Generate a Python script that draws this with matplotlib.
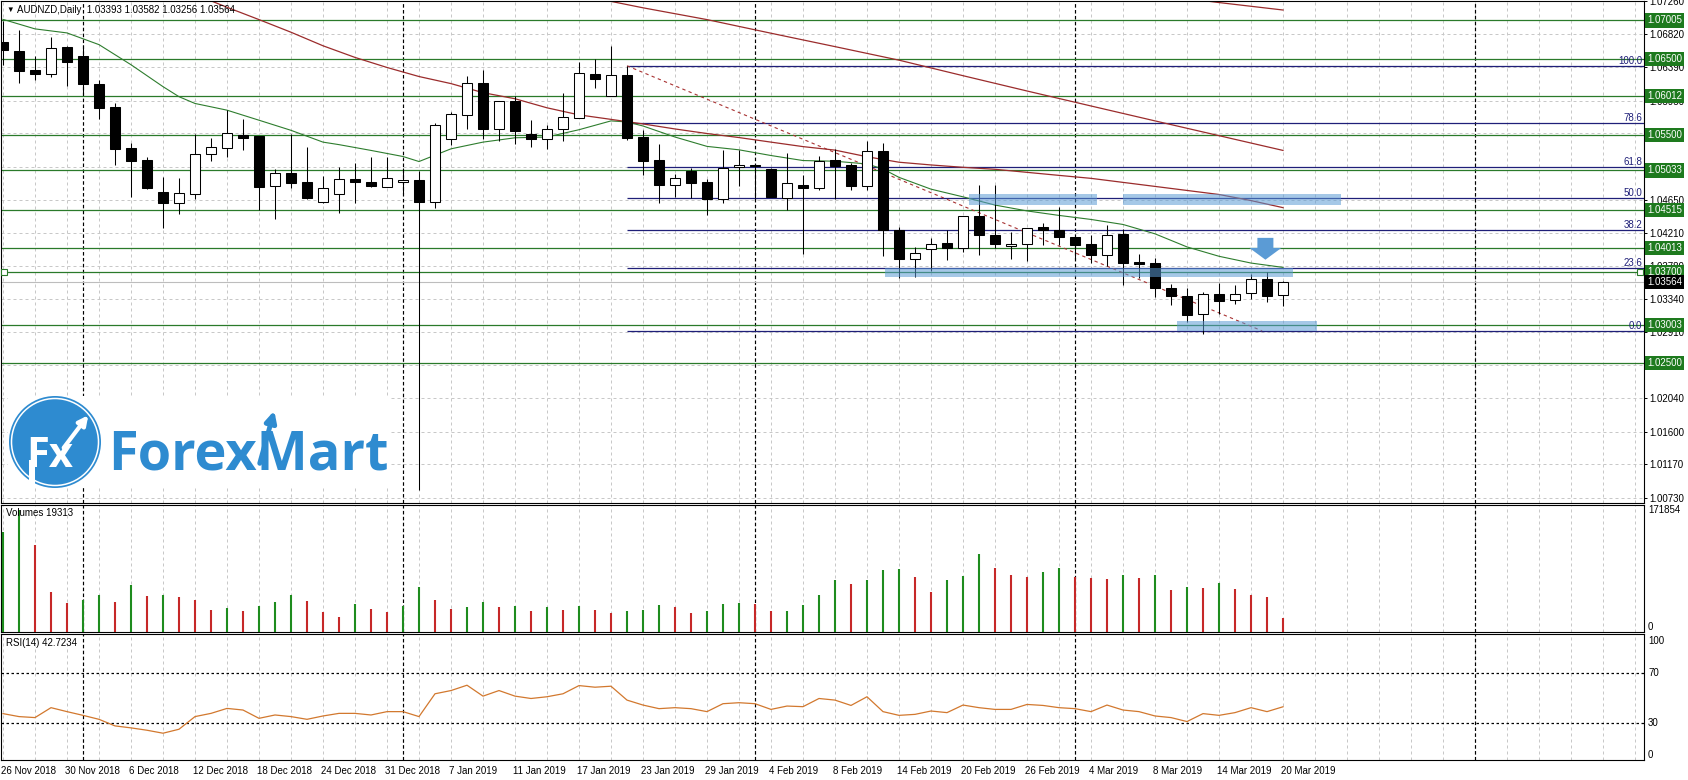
import matplotlib
matplotlib.use("Agg")
import matplotlib.pyplot as plt
from matplotlib.patches import Rectangle, Circle, Polygon
from matplotlib.transforms import ScaledTranslation

plt.rcParams['font.family'] = ['Liberation Sans', 'DejaVu Sans']
plt.rcParams['font.size'] = 7

# ---------------- values ----------------
dates = ["26 Nov 2018", "30 Nov 2018", "6 Dec 2018", "12 Dec 2018", "18 Dec 2018",
         "24 Dec 2018", "31 Dec 2018", "7 Jan 2019", "11 Jan 2019", "17 Jan 2019",
         "23 Jan 2019", "29 Jan 2019", "4 Feb 2019", "8 Feb 2019", "14 Feb 2019",
         "20 Feb 2019", "26 Feb 2019", "4 Mar 2019", "8 Mar 2019", "14 Mar 2019",
         "20 Mar 2019"]

opens = [1.06717, 1.06598, 1.06355, 1.06302, 1.06651, 1.06531, 1.06170, 1.05860, 1.05326, 1.05176,
         1.04756, 1.04601, 1.04721, 1.05243, 1.05330, 1.05502, 1.05480, 1.04832, 1.04995, 1.04876,
         1.04620, 1.04721, 1.04925, 1.04876, 1.04819, 1.04885, 1.04911, 1.04620, 1.05449, 1.05767,
         1.06187, 1.05582, 1.05949, 1.05515, 1.05441, 1.05582, 1.05723, 1.06302, 1.06015, 1.06289,
         1.05472, 1.05176, 1.04845, 1.05021, 1.04876, 1.04664, 1.05084, 1.05110, 1.05052, 1.04677,
         1.04845, 1.04800, 1.05171, 1.05105, 1.04823, 1.05286, 1.04249, 1.03873, 1.04001, 1.04081,
         1.04015, 1.04434, 1.04183, 1.04037, 1.04072, 1.04289, 1.04249, 1.04156, 1.04072, 1.03926,
         1.04200, 1.03825, 1.03816, 1.03494, 1.03388, 1.03144, 1.03405, 1.03330, 1.03428, 1.03604,
         1.03393]
highs = [1.06995, 1.06876, 1.06531, 1.06783, 1.06673, 1.06686, 1.06223, 1.05922, 1.05392, 1.05216,
         1.04951, 1.04929, 1.05507, 1.05462, 1.05825, 1.05714, 1.05485, 1.05052, 1.05507, 1.05339,
         1.04964, 1.05074, 1.05127, 1.05216, 1.05216, 1.05065, 1.05021, 1.05657, 1.05803, 1.06280,
         1.06355, 1.05945, 1.06011, 1.05693, 1.05635, 1.06055, 1.06452, 1.06501, 1.06664, 1.06408,
         1.05560, 1.05383, 1.04986, 1.05061, 1.04919, 1.05295, 1.05295, 1.05118, 1.05061, 1.05260,
         1.04972, 1.05229, 1.05317, 1.05127, 1.05419, 1.05396, 1.04293, 1.04024, 1.04147, 1.04244,
         1.04434, 1.04845, 1.04842, 1.04222, 1.04279, 1.04346, 1.04554, 1.04160, 1.04183, 1.04315,
         1.04257, 1.03935, 1.03882, 1.03538, 1.03494, 1.03441, 1.03551, 1.03528, 1.03670, 1.03693,
         1.03582]
lows = [1.06425, 1.06178, 1.06223, 1.06266, 1.06143, 1.06024, 1.05714, 1.05105, 1.04686, 1.04790,
        1.04279, 1.04456, 1.04654, 1.05154, 1.05207, 1.05303, 1.04509, 1.04389, 1.04800, 1.04660,
        1.04601, 1.04469, 1.04601, 1.04809, 1.04809, 1.04743, 1.00835, 1.04544, 1.05370, 1.05582,
        1.05449, 1.05415, 1.05383, 1.05339, 1.05317, 1.05419, 1.05720, 1.06112, 1.06010, 1.05428,
        1.04978, 1.04611, 1.04690, 1.04677, 1.04442, 1.04611, 1.04832, 1.04677, 1.04685, 1.04514,
        1.03939, 1.04774, 1.04664, 1.04774, 1.04774, 1.03913, 1.03617, 1.03630, 1.03706, 1.03860,
        1.03962, 1.03918, 1.04015, 1.03873, 1.03838, 1.04058, 1.04058, 1.03869, 1.03816, 1.03772,
        1.03528, 1.03626, 1.03375, 1.03263, 1.03044, 1.02889, 1.03153, 1.03273, 1.03339, 1.03308,
        1.03256]
closes = [1.06611, 1.06342, 1.06302, 1.06641, 1.06456, 1.06164, 1.05847, 1.05317, 1.05154, 1.04800,
          1.04601, 1.04730, 1.05250, 1.05335, 1.05529, 1.05462, 1.04809, 1.04995, 1.04866, 1.04668,
          1.04800, 1.04919, 1.04885, 1.04832, 1.04933, 1.04911, 1.04620, 1.05627, 1.05772, 1.06178,
          1.05582, 1.05940, 1.05551, 1.05449, 1.05582, 1.05737, 1.06319, 1.06236, 1.06289, 1.05462,
          1.05154, 1.04842, 1.04929, 1.04866, 1.04664, 1.05061, 1.05110, 1.05088, 1.04690, 1.04862,
          1.04800, 1.05163, 1.05088, 1.04823, 1.05286, 1.04249, 1.03873, 1.03948, 1.04072, 1.04015,
          1.04430, 1.04183, 1.04072, 1.04072, 1.04275, 1.04249, 1.04156, 1.04058, 1.03926, 1.04191,
          1.03816, 1.03807, 1.03485, 1.03388, 1.03131, 1.03405, 1.03322, 1.03409, 1.03604, 1.03388,
          1.03564]

vols = [141200, 171854, 122400, 56500, 40100, 44800, 51800, 42400, 65900, 50400,
        51800, 49400, 44800, 30600, 33900, 29200, 36300, 42400, 51800, 43300,
        28200, 19800, 39100, 32000, 28200, 36300, 63500, 44800, 32000, 35300,
        42400, 35300, 36300, 29200, 35300, 30600, 36300, 30600, 26800, 29200,
        30600, 37700, 35300, 26800, 29200, 39100, 40500, 38500, 28800, 29600,
        37700, 51800, 73000, 67400, 73000, 87100, 88500, 77700, 56500, 73000,
        78600, 109700, 90400, 80100, 77700, 84700, 90400, 76800, 76300, 74400,
        80100, 76300, 80100, 58900, 63500, 62100, 68300, 60300, 51800, 49400,
        19313]

rsi = [37.2, 34.8, 34.0, 42.0, 38.8, 35.8, 32.6, 27.3, 25.7, 23.8,
       21.4, 24.6, 34.8, 37.4, 41.4, 40.1, 33.4, 36.1, 34.8, 32.6,
       35.3, 37.4, 37.4, 36.1, 38.8, 38.8, 34.8, 53.2, 55.8, 60.1,
       51.3, 55.8, 51.3, 49.4, 50.8, 53.2, 59.8, 58.5, 59.3, 48.1,
       44.1, 41.2, 42.0, 41.2, 38.8, 45.2, 46.0, 45.2, 40.6, 43.3,
       42.8, 49.4, 48.1, 43.8, 50.8, 38.8, 35.8, 36.6, 39.3, 38.0,
       44.1, 42.0, 40.6, 40.6, 44.6, 43.8, 42.0, 41.2, 38.8, 44.1,
       40.1, 38.8, 35.3, 34.0, 30.8, 37.2, 35.8, 38.0, 42.0, 38.8,
       42.7234]

# moving averages sampled at these bars
ma_green_x = [0, 2, 4, 6, 8, 10, 11, 12, 14, 16, 18, 20, 21, 23, 25, 26, 28, 30, 32, 34, 36, 38,
              39, 40, 42, 44, 46, 48, 50, 52, 54, 55, 56, 58, 60, 62, 64, 66, 68, 70, 72, 74, 76, 78, 80]
ma_green = [1.07018, 1.06893, 1.06840, 1.06686, 1.06422, 1.06134, 1.06002, 1.05913, 1.05825, 1.05693,
            1.05560, 1.05405, 1.05372, 1.05296, 1.05216, 1.05150, 1.05317, 1.05405, 1.05462, 1.05472,
            1.05568, 1.05684, 1.05670, 1.05617, 1.05472, 1.05349, 1.05304, 1.05229, 1.05163, 1.05154,
            1.05118, 1.05052, 1.04942, 1.04787, 1.04686, 1.04578, 1.04501, 1.04442, 1.04389, 1.04323,
            1.04200, 1.04028, 1.03905, 1.03816, 1.03759]
ma_slow_x = [12, 14, 16, 18, 20, 22, 24, 26, 28, 30, 32, 34, 36, 38, 40, 42, 44, 46, 48, 50,
             52, 54, 56, 58, 60, 62, 64, 66, 68, 70, 72, 74, 76, 78, 80]
ma_slow = [1.07346, 1.07177, 1.07015, 1.06849, 1.06671, 1.06518, 1.06386, 1.06267, 1.06174, 1.06055,
           1.05975, 1.05856, 1.05763, 1.05704, 1.05644, 1.05578, 1.05518, 1.05465, 1.05405, 1.05346,
           1.05300, 1.05213, 1.05141, 1.05105, 1.05074, 1.05048, 1.05008, 1.04968, 1.04929, 1.04876,
           1.04823, 1.04770, 1.04717, 1.04637, 1.04544]
ma_slower_x = [36, 40, 44, 48, 52, 56, 60, 64, 68, 72, 76, 80]
ma_slower = [1.07339, 1.07170, 1.07015, 1.06836, 1.06660, 1.06482, 1.06278, 1.06077, 1.05880,
             1.05684, 1.05490, 1.05296]
ma_slowest_x = [72, 76, 80]
ma_slowest = [1.07343, 1.07239, 1.07141]

levels = [1.07005, 1.06500, 1.06012, 1.05500, 1.05033, 1.04515, 1.04013, 1.03700, 1.03003, 1.02500]
bid = 1.03564

fib_names = ["0.0", "23.6", "38.2", "50.0", "61.8", "78.6", "100.0"]
fib_levels = [1.02924, 1.03746, 1.04255, 1.04666, 1.05077, 1.05662, 1.06408]
fib_start = 39
fib_diag_x = [39, 78.7]
fib_diag_y = [1.06408, 1.02924]

price_ticks = ["1.07260", "1.06820", "1.06390", "1.05950", "1.05520", "1.05080", "1.04650", "1.04210",
               "1.03780", "1.03340", "1.02910", "1.02470", "1.02040", "1.01600", "1.01170", "1.00730"]
separators = [5, 25, 47, 67, 92]

# hand-drawn blue marks: (bar from, bar to, price low, price high)
bands = [(60.4, 68.4, 1.04584, 1.04717), (70.0, 83.6, 1.04584, 1.04717),
         (55.1, 80.6, 1.03630, 1.03750), (73.4, 82.1, 1.02928, 1.03061)]
arrow_x = [78.4, 79.4, 79.4, 79.9, 78.9, 77.9, 78.4]
arrow_y = [1.04147, 1.04147, 1.04015, 1.04015, 1.03860, 1.04015, 1.04015]

# ---------------- layout ----------------
W, H = 1688, 780
fig = plt.figure(figsize=(W / 100, H / 100), dpi=100)
fig.patch.set_facecolor('white')


def px_axes(x0, y0, x1, y1):
    return fig.add_axes([x0 / W, 1 - y1 / H, (x1 - x0) / W, (y1 - y0) / H])


ax = px_axes(1, 0.5, 1644, 503)
axv = px_axes(1, 505, 1644, 631.5)
axr = px_axes(1, 634, 1644, 760)

XL = (-0.125, 102.5625)
grid_x = list(range(0, 103, 2))
GRID = dict(color='#c8c8c8', linestyle=(0, (3, 3)), linewidth=0.72)
GREEN = '#2a7a2a'
NAVY = '#1f1f78'

for a in (ax, axv, axr):
    a.set_xlim(*XL)
    a.set_xticks(grid_x)
    a.grid(True, axis='x', **GRID)
    a.set_axisbelow(True)
    for s in a.spines.values():
        s.set_color('black')
        s.set_linewidth(0.8)
    for sx in separators:
        a.axvline(sx, color='black', linestyle=(0, (3, 2)), linewidth=0.85, zorder=1)
    a.tick_params(axis='x', length=0, labelbottom=False)

xs = list(range(len(opens)))

# ---- price panel ----
ax.set_ylim(1.00663, 1.07266)
tick_vals = [float(t) for t in price_ticks]
ax.yaxis.tick_right()
ax.set_yticks(tick_vals, price_ticks)
ax.tick_params(axis='y', length=2.5, width=0.7, pad=1.5, labelsize=7)
ax.grid(True, axis='y', **GRID)

for lv in levels:
    ax.axhline(lv, color=GREEN, linewidth=0.9, zorder=2)
ax.axhline(bid, color='#bdbdbd', linewidth=0.8, zorder=2)

ax.hlines(fib_levels, fib_start, XL[1], color=NAVY, linewidth=0.9, zorder=2)
ax.plot(fib_diag_x, fib_diag_y, color='#a83232', linestyle=(0, (3, 3)), linewidth=0.8, zorder=2)
for nm, lv in zip(fib_names, fib_levels):
    ax.text(1 - 2 / 1643, lv, nm, transform=ax.get_yaxis_transform(), ha='right', va='bottom',
            fontsize=7, color=NAVY, zorder=5)

ax.plot(ma_green_x, ma_green, color='#2e7d2e', linewidth=0.8, zorder=2.5)
for mx, my in ((ma_slow_x, ma_slow), (ma_slower_x, ma_slower), (ma_slowest_x, ma_slowest)):
    ax.plot(mx, my, color='#9b2c2c', linewidth=0.9, zorder=2.5)

body_lo = [min(o, c) for o, c in zip(opens, closes)]
body_h = [abs(c - o) for o, c in zip(opens, closes)]
face = ['black' if c < o else 'white' for o, c in zip(opens, closes)]
ax.vlines(xs, lows, highs, color='black', linewidth=0.75, zorder=3)
ax.bar(xs, body_h, bottom=body_lo, width=0.64, color=face, edgecolor='black',
       linewidth=0.75, zorder=4)

for b0, b1, p0, p1 in bands:
    ax.add_patch(Rectangle((b0, p0), b1 - b0, p1 - p0, facecolor='#5b9bd5', alpha=0.55,
                           edgecolor='none', zorder=6))
ax.add_patch(Polygon(list(zip(arrow_x, arrow_y)), closed=True, facecolor='#5b9bd5',
                     edgecolor='none', zorder=6))

ax.plot([0.06, 102.3], [levels[7], levels[7]], linestyle='none', marker='s', ms=4,
        mfc='white', mec=GREEN, mew=0.8, clip_on=False, zorder=7)

for lv in levels:
    ax.text(1 + 3 / 1643, lv, f"{lv:.5f}", transform=ax.get_yaxis_transform(), ha='left',
            va='center', fontsize=7, color='white', clip_on=False, zorder=10,
            bbox=dict(boxstyle='square,pad=0.22', fc='#1e7a1e', ec='none'))
ax.text(1 + 3 / 1643, bid, f"{bid:.5f}", transform=ax.get_yaxis_transform(), ha='left',
        va='center', fontsize=7, color='white', clip_on=False, zorder=10,
        bbox=dict(boxstyle='square,pad=0.22', fc='black', ec='none'))

# ---- volume panel ----
axv.set_ylim(0, 178900)
axv.set_yticks([])
vcol = ['#1e8c1e' if i == 0 or vols[i] > vols[i - 1] else '#c62828' for i in xs]
axv.vlines(xs, 0, vols, colors=vcol, linewidth=1.5, zorder=3)
yt = axv.get_yaxis_transform()
axv.text(1 + 4 / 1643, max(vols), str(max(vols)), transform=yt, ha='left', va='center',
         fontsize=7, clip_on=False)
axv.text(1 + 4 / 1643, 0, "0", transform=yt, ha='left', va='bottom', fontsize=7, clip_on=False)

# ---- RSI panel ----
axr.set_ylim(-0.2, 101.4)
axr.set_yticks([])
for lv in (70, 30):
    axr.axhline(lv, color='black', linestyle=(0, (2, 2)), linewidth=0.9, zorder=2)
axr.plot(xs, rsi, color='#d2782e', linewidth=0.9, zorder=3)
yt = axr.get_yaxis_transform()
for val, va in ((100, 'top'), (70, 'center'), (30, 'center'), (0, 'bottom')):
    axr.text(1 + 4 / 1643, val, str(val), transform=yt, ha='left', va=va, fontsize=7,
             clip_on=False)

date_lbl = [dates[i // 4] if i % 4 == 0 and i // 4 < len(dates) else '' for i in grid_x]
axr.set_xticks(grid_x, date_lbl)
axr.tick_params(axis='x', length=0, labelbottom=True, labelsize=7, pad=4)
off = ScaledTranslation(-2 / 100, 0, fig.dpi_scale_trans)
for t in axr.get_xticklabels():
    t.set_ha('left')
    t.set_transform(t.get_transform() + off)

# ---- overlay: titles and logo (pixel coordinates) ----
ov = fig.add_axes([0, 0, 1, 1], zorder=20)
ov.set_xlim(0, W)
ov.set_ylim(H, 0)
ov.axis('off')

ov.text(6, 10, "\u25bc", fontsize=5.5, va='center', ha='left')
ov.text(17, 10, f"AUDNZD,Daily  {opens[-1]:.5f} {highs[-1]:.5f} {lows[-1]:.5f} {closes[-1]:.5f}",
        fontsize=7, va='center', ha='left')
ov.text(6, 513, f"Volumes {vols[-1]}", fontsize=7, va='center', ha='left')
ov.text(6, 643, f"RSI(14) {rsi[-1]:.4f}", fontsize=7, va='center', ha='left')

LOGO = '#2e8bd0'
ov.add_patch(Rectangle((8, 396), 382, 90, facecolor='white', edgecolor='none'))
ov.add_patch(Circle((55, 442), 46, facecolor=LOGO, edgecolor='none'))
ov.add_patch(Circle((55, 442), 43.5, facecolor='none', edgecolor='white', linewidth=1.1))
ov.text(26, 467, "Fx", fontsize=30, fontweight='bold', color='white', family='Open Sans',
        va='baseline', ha='left')
ov.add_patch(Rectangle((28.5, 460), 6, 25, facecolor='white', edgecolor='none'))
ov.annotate('', xy=(90, 413), xytext=(62, 450),
            arrowprops=dict(arrowstyle='-|>', color='white', lw=3, mutation_scale=14))
ov.text(108, 470, "ForexMart", fontsize=39, fontweight='bold', color=LOGO, family='Open Sans',
        va='baseline', ha='left')
ov.annotate('', xy=(275, 408), xytext=(259, 466),
            arrowprops=dict(arrowstyle='-|>', color=LOGO, lw=3.5, mutation_scale=16))

fig.savefig("out.png", dpi=100, facecolor='white')
